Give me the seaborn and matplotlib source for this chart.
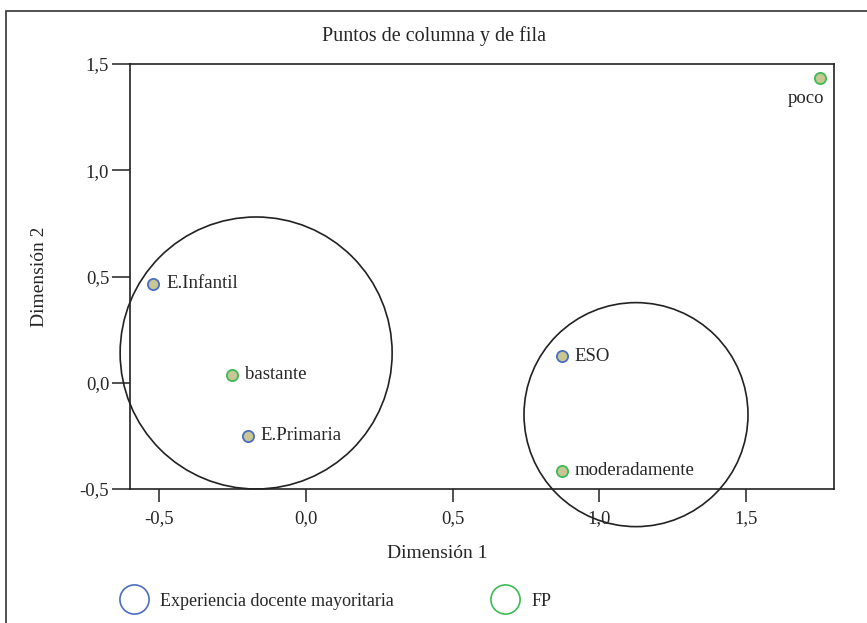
import numpy as np
import pandas as pd
import matplotlib.pyplot as plt
import seaborn as sns
from matplotlib.patches import Ellipse, Rectangle
from matplotlib.lines import Line2D

sns.set_theme(style='white')
plt.rcParams['font.family'] = ['Liberation Serif', 'DejaVu Serif']

# puntos de columna y de fila
labels = ['E.Infantil', 'E.Primaria', 'ESO', 'poco', 'bastante', 'moderadamente']
dim1 = [-0.52, -0.197, 0.873, 1.752, -0.251, 0.873]
dim2 = [0.466, -0.25, 0.124, 1.436, 0.038, -0.413]
grupo = ['Experiencia docente mayoritaria'] * 3 + ['FP'] * 3
grupos = ['Experiencia docente mayoritaria', 'FP']
bordes = ['#4a6fc0', '#3dbb55']

# circulos de agrupacion (centro en datos, radio en pixeles)
circ_x = [-0.17, 1.125]
circ_y = [0.14, -0.15]
circ_r = [136, 112]

xticks = [-0.5, 0.0, 0.5, 1.0, 1.5]
yticks = [-0.5, 0.0, 0.5, 1.0, 1.5]

df = pd.DataFrame({'label': labels, 'dim1': dim1, 'dim2': dim2, 'grupo': grupo})

fig = plt.figure(figsize=(8.67, 6.23), dpi=100)
ax = fig.add_axes([130 / 867, 1 - 489 / 623, (834 - 130) / 867, (489 - 64) / 623])

relleno = '#c8c694'
for g, c in zip(grupos, bordes):
    sub = df[df['grupo'] == g]
    sns.scatterplot(data=sub, x='dim1', y='dim2', ax=ax, s=65, color=relleno,
                    edgecolor=c, linewidth=1.3, zorder=3, legend=False)

for _, r in df.iterrows():
    if r['label'] == 'poco':
        ax.annotate(r['label'], (r['dim1'], r['dim2']), xytext=(3, -9),
                    textcoords='offset points', ha='right', va='top', fontsize=13.5)
    else:
        ax.annotate(r['label'], (r['dim1'], r['dim2']), xytext=(9, 0),
                    textcoords='offset points', ha='left', va='center', fontsize=13.5)

ax.set_xlim(-0.6, 1.8)
ax.set_ylim(-0.5, 1.5)

# px por unidad para dibujar circulos redondos
px_x = (834 - 130) / 2.4
px_y = (489 - 64) / 2.0
for cx, cy, r in zip(circ_x, circ_y, circ_r):
    ax.add_patch(Ellipse((cx, cy), 2 * r / px_x, 2 * r / px_y, fill=False,
                         edgecolor='#222222', linewidth=1.2, clip_on=False, zorder=2))

ax.set_xticks(xticks)
ax.set_yticks(yticks)
ax.set_xticklabels([f'{v:.1f}'.replace('.', ',') for v in xticks], fontsize=13.5)
ax.set_yticklabels([f'{v:.1f}'.replace('.', ',') for v in yticks], fontsize=13.5)
ax.tick_params(axis='x', direction='out', length=9, width=1.1, color='#222222', pad=6, bottom=True)
ax.tick_params(axis='y', direction='out', length=13, width=1.1, color='#222222', pad=2, left=True)
for sp in ax.spines.values():
    sp.set_visible(True)
    sp.set_color('#222222')
    sp.set_linewidth(1.2)
ax.set_xlabel('')
ax.set_ylabel('')

fig.text(0.5, 1 - 36 / 623, 'Puntos de columna y de fila', ha='center', va='center', fontsize=14.5)
fig.text(0.504, 1 - 553 / 623, 'Dimensión 1', ha='center', va='center', fontsize=14)
fig.text(40 / 867, 1 - 277 / 623, 'Dimensión 2', ha='center', va='center',
         rotation=90, fontsize=14)

handles = [Line2D([], [], marker='o', linestyle='', markersize=21, markerfacecolor='none',
                  markeredgecolor=c, markeredgewidth=1.2) for c in bordes]
fig.legend(handles, grupos, loc='center left', bbox_to_anchor=(120 / 867, 1 - 601 / 623),
           ncol=2, frameon=False, fontsize=13, columnspacing=5.38, handletextpad=0.62,
           handlelength=1.6, borderaxespad=0, borderpad=0)

# marco exterior recortado
fig.patches.append(Rectangle((6 / 867, -0.1), 1.2, 1 - 11 / 623 + 0.1, transform=fig.transFigure,
                             fill=False, edgecolor='#333333', linewidth=1.2))

fig.savefig('out.png', dpi=100)
